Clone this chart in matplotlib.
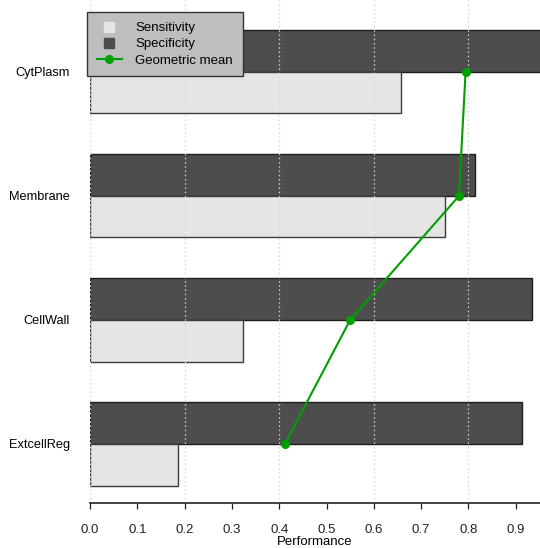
import numpy as np
import matplotlib.pyplot as plt
from matplotlib.lines import Line2D

plt.rcParams['font.family'] = ['Liberation Sans', 'DejaVu Sans']

# values
categories = ["CytPlasm", "Membrane", "CellWall", "ExtcellReg"]
sensitivity = [0.657, 0.750, 0.324, 0.185]
specificity = [0.960, 0.813, 0.934, 0.913]
geo_mean = [0.794, 0.780, 0.550, 0.412]
xticks = [0.0, 0.1, 0.2, 0.3, 0.4, 0.5, 0.6, 0.7, 0.8, 0.9]
grid_x = [0.0, 0.2, 0.4, 0.6, 0.8]

light = '#e5e5e5'
dark = '#4d4d4d'
green = '#00a000'

fig = plt.figure(figsize=(5.40, 5.48), dpi=100)
ax = fig.add_axes([90 / 540, 45 / 548, 450 / 540, 503 / 548])

pos = np.arange(len(categories))[::-1] + 1.0
h = 0.335

ax.barh(pos + h / 2, specificity, height=h, color=dark, edgecolor='#1e1e1e',
        linewidth=1.0, zorder=2)
ax.barh(pos - h / 2, sensitivity, height=h, color=light, edgecolor='#3c3c3c',
        linewidth=1.0, zorder=2)

# dotted grid drawn over the bars
for g in grid_x:
    ax.axvline(g, color='#d4d4d4', linestyle=(0, (1.2, 2.2)), linewidth=0.9, zorder=2.5)

ax.plot(geo_mean, pos, color=green, linewidth=1.5, marker='o', markersize=5.5, zorder=3)

ax.set_xlim(0, 0.9513)
ax.set_ylim(0.524, 4.58)
ax.set_xticks(xticks)
ax.set_xticklabels([f"{t:.1f}" for t in xticks], fontsize=9.5)
ax.set_yticks(pos)
ax.set_yticklabels(categories, fontsize=9.2)
ax.tick_params(axis='y', length=0, pad=14.5)
ax.tick_params(axis='x', direction='out', length=4, width=0.9, pad=11, colors='#222222')
ax.set_xlabel("Performance", fontsize=9.5, labelpad=0)

for s in ['top', 'right', 'left']:
    ax.spines[s].set_visible(False)
ax.spines['bottom'].set_linewidth(1.2)
ax.spines['bottom'].set_color('#222222')

handles = [
    Line2D([], [], linestyle='none', marker='s', markersize=7, color=light),
    Line2D([], [], linestyle='none', marker='s', markersize=7, color=dark),
    Line2D([], [], color=green, linewidth=1.5, marker='o', markersize=5.5),
]
leg = fig.legend(handles, ["Sensitivity", "Specificity", "Geometric mean"],
                 loc='upper left', bbox_to_anchor=(87 / 540, 1 - 12 / 548),
                 borderaxespad=0, fontsize=9.5, frameon=True, fancybox=False,
                 framealpha=1, facecolor='#bebebe', edgecolor='#333333',
                 handlelength=1.9, handletextpad=1.0, labelspacing=0.3,
                 borderpad=0.75)
leg.get_frame().set_linewidth(1.0)

fig.savefig("out.png", dpi=100)
